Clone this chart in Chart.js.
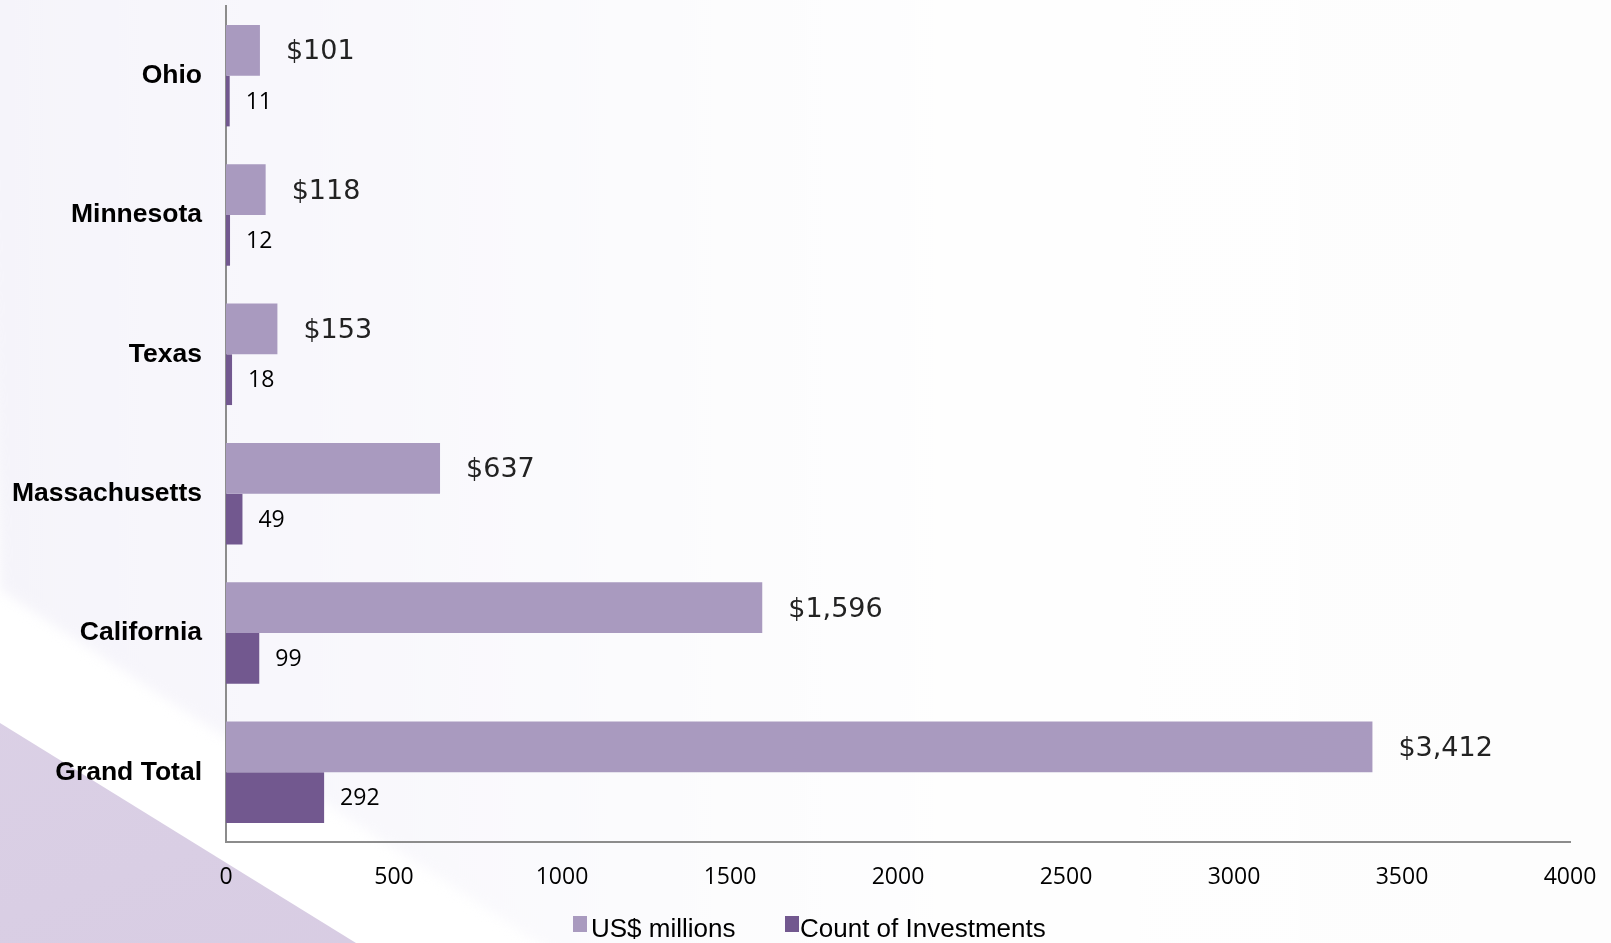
<!DOCTYPE html>
<html>
<head>
<meta charset="utf-8">
<script src="https://cdn.jsdelivr.net/npm/chart.js@4/dist/chart.umd.min.js"></script>
<style>
  html, body { margin: 0; padding: 0; }
  body { width: 1611px; height: 943px; overflow: hidden; position: relative; background: #ffffff; }
  #upperWrap { position: absolute; left: 0; top: 0; width: 1611px; height: 943px; filter: blur(6px); }
  #upper {
    position: absolute; left: -20px; top: -20px; width: 1651px; height: 983px;
    background: linear-gradient(90deg, #f5f4fa 0%, #f8f7fc 18%, #fbfbfd 40%, #fefefe 60%, #fdfdfd 100%);
    clip-path: polygon(0px 0px, 1651px 0px, 1651px 983px, 589px 983px, 20px 610px);
  }
  #tri {
    position: absolute; left: 0; top: 0; width: 1611px; height: 943px;
    background: linear-gradient(160deg, #e0d7ea 0%, #d9cee4 60%, #d5c8e0 100%);
    clip-path: polygon(0px 723px, 356px 943px, 0px 943px);
  }
  #wrap { position: absolute; left: 0; top: 0; width: 1611px; height: 943px; }
  .lg { position: absolute; font-family: "Liberation Sans", Arial, sans-serif; font-size: 26px; line-height: 26px; color: #000; white-space: nowrap; }
  .sq { position: absolute; width: 14px; height: 16px; }
</style>
</head>
<body>
<div id="upperWrap"><div id="upper"></div></div>
<div id="tri"></div>
<div id="wrap"><canvas id="c" width="1611" height="943"></canvas></div>
<div class="sq" style="left:573px; top:916px; background:#a99abf;"></div>
<div class="lg" style="left:591px; top:915px;">US$ millions</div>
<div class="sq" style="left:785px; top:916px; background:#72588f;"></div>
<div class="lg" style="left:800px; top:915px;">Count of Investments</div>
<script>
const categories = ['Ohio', 'Minnesota', 'Texas', 'Massachusetts', 'California', 'Grand Total'];
const usdMillions = [101, 118, 153, 637, 1596, 3412];
const investmentCounts = [11, 12, 18, 49, 99, 292];
const seriesNames = ['US$ millions', 'Count of Investments'];
const xTicks = [0, 500, 1000, 1500, 2000, 2500, 3000, 3500, 4000];

const valueLabels = {
  id: 'valueLabels',
  afterDatasetsDraw(chart) {
    const ctx = chart.ctx;
    ctx.save();
    ctx.textBaseline = 'middle';
    ctx.textAlign = 'left';
    chart.data.datasets.forEach((ds, di) => {
      const meta = chart.getDatasetMeta(di);
      meta.data.forEach((bar, i) => {
        const v = ds.data[i];
        if (di === 0) {
          ctx.font = '27px "DejaVu Sans", sans-serif';
          ctx.fillStyle = '#222';
          ctx.fillText('$' + v.toLocaleString('en-US'), bar.x + 26, bar.y + 2);
        } else {
          ctx.font = '23px "Open Sans", sans-serif';
          ctx.fillStyle = '#000';
          ctx.fillText(String(v), bar.x + 16, bar.y + 1);
        }
      });
    });
    ctx.restore();
  }
};

new Chart(document.getElementById('c'), {
  type: 'bar',
  data: {
    labels: categories,
    datasets: [
      { label: seriesNames[0], data: usdMillions, backgroundColor: '#a99abf', categoryPercentage: 0.728, barPercentage: 1.0 },
      { label: seriesNames[1], data: investmentCounts, backgroundColor: '#72588f', categoryPercentage: 0.728, barPercentage: 1.0 }
    ]
  },
  options: {
    indexAxis: 'y',
    responsive: false,
    animation: false,
    layout: { padding: { top: 6, right: 41, left: 0, bottom: 0 } },
    plugins: { legend: { display: false }, tooltip: { enabled: false } },
    scales: {
      x: {
        min: 0, max: 4000,
        afterBuildTicks(scale) { scale.ticks = xTicks.map(v => ({ value: v })); },
        afterFit(scale) { scale.height = 101; scale.paddingLeft = 0; scale.paddingRight = 0; },
        grid: { display: false, drawTicks: false },
        border: { display: true, color: '#8c8c8c', width: 2 },
        ticks: { padding: 22, color: '#000', font: { family: '"Open Sans", sans-serif', size: 23 }, callback: v => String(v) }
      },
      y: {
        afterFit(scale) { scale.width = 226; scale.paddingTop = 0; scale.paddingBottom = 0; },
        grid: { display: false, drawTicks: false },
        border: { display: true, color: '#8c8c8c', width: 2 },
        ticks: { padding: 24, color: '#000', font: { family: '"Liberation Sans", Arial, sans-serif', size: 26.5, weight: 'bold' } }
      }
    }
  },
  plugins: [valueLabels]
});
</script>
</body>
</html>
